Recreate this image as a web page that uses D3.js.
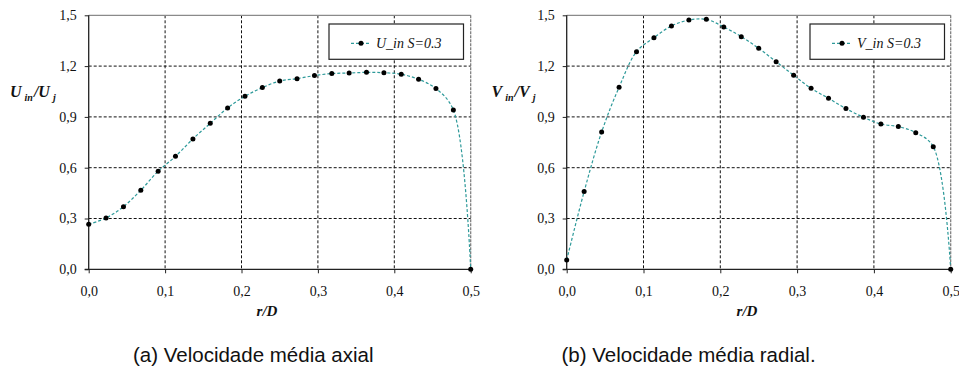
<!DOCTYPE html>
<html>
<head>
<meta charset="utf-8">
<script src="https://cdn.jsdelivr.net/npm/d3@7"></script>
<style>
  body { margin: 0; background: #fff; }
  svg { display: block; }
</style>
</head>
<body>
<svg id="fig" width="959" height="373"></svg>
<script>
// Radial positions r/D (23 stations from axis to wall)
const rD = [0.0000, 0.0227, 0.0455, 0.0682, 0.0909, 0.1136, 0.1364, 0.1591, 0.1818, 0.2045,
            0.2273, 0.2500, 0.2727, 0.2955, 0.3182, 0.3409, 0.3636, 0.3864, 0.4091, 0.4318,
            0.4545, 0.4773, 0.5000];
// Axial mean velocity U_in/U_j, swirl S=0.3
const uIn = [0.266, 0.303, 0.370, 0.467, 0.579, 0.667, 0.770, 0.862, 0.953, 1.022,
             1.073, 1.112, 1.126, 1.144, 1.156, 1.159, 1.163, 1.161, 1.152, 1.122,
             1.067, 0.941, 0.000];
// Radial mean velocity V_in/V_j, swirl S=0.3
const vIn = [0.055, 0.459, 0.811, 1.075, 1.285, 1.368, 1.437, 1.472, 1.476, 1.431,
             1.374, 1.305, 1.226, 1.146, 1.069, 1.010, 0.949, 0.898, 0.858, 0.843,
             0.807, 0.724, 0.000];
const xTicks = [0, 0.1, 0.2, 0.3, 0.4, 0.5];
const yTicks = [0, 0.3, 0.6, 0.9, 1.2, 1.5];
const seriesNames = ["U_in S=0.3", "V_in S=0.3"];
const yTitles = [["U", "in", "/U", "j"], ["V", "in", "/V", "j"]];
const xTitle = "r/D";
const captions = ["(a) Velocidade média axial", "(b) Velocidade média radial."];

const svg = d3.select("#fig");
const fmt = d => d.toFixed(1).replace(".", ",");
const serifFont = "Liberation Serif";
const sansFont = "Liberation Sans";
const lineColor = "#2e9a9a";

const panels = [
  { left: 88.7, right: 470.7, values: uIn, name: seriesNames[0], title: yTitles[0], titleX: 10,
    caption: captions[0], capX: 133, legendX: 329, xTitleX: 267 },
  { left: 566.7, right: 950.7, values: vIn, name: seriesNames[1], title: yTitles[1], titleX: 491.5,
    caption: captions[1], capX: 561.5, legendX: 810, xTitleX: 747 }
];
const plotTop = 15.3, plotBottom = 269.3;

panels.forEach(p => {
  const x = d3.scaleLinear().domain([0, 0.5]).range([p.left, p.right]);
  const y = d3.scaleLinear().domain([0, 1.5]).range([plotBottom, plotTop]);
  const g = svg.append("g");

  // grid
  g.append("g").selectAll("line").data(yTicks.slice(1, -1)).join("line")
    .attr("x1", p.left).attr("x2", p.right)
    .attr("y1", d => y(d)).attr("y2", d => y(d))
    .attr("stroke", "#111").attr("stroke-width", 1).attr("stroke-dasharray", "3,2");
  g.append("g").selectAll("line").data(xTicks.slice(1, -1)).join("line")
    .attr("x1", d => x(d)).attr("x2", d => x(d))
    .attr("y1", plotTop).attr("y2", plotBottom)
    .attr("stroke", "#111").attr("stroke-width", 1).attr("stroke-dasharray", "3,2");

  // frame: top and right edges
  g.append("line").attr("x1", p.left).attr("x2", p.right).attr("y1", plotTop).attr("y2", plotTop)
    .attr("stroke", "#8a8a8a").attr("stroke-width", 1.2);
  g.append("line").attr("x1", p.right).attr("x2", p.right).attr("y1", plotTop).attr("y2", plotBottom)
    .attr("stroke", "#777").attr("stroke-width", 1.2).attr("stroke-dasharray", "3,1");

  // axes
  const yAxis = d3.axisLeft(y).tickValues(yTicks).tickFormat(fmt).tickSize(4).tickPadding(8);
  const xAxis = d3.axisBottom(x).tickValues(xTicks).tickFormat(fmt).tickSize(4).tickPadding(13);
  const ya = g.append("g").attr("transform", `translate(${p.left},0)`).call(yAxis);
  const xa = g.append("g").attr("transform", `translate(0,${plotBottom})`).call(xAxis);
  [ya, xa].forEach(a => {
    a.attr("font-family", serifFont).attr("font-size", 14);
    a.select(".domain").attr("stroke", "#222").attr("stroke-width", 1.3);
    a.selectAll(".tick line").attr("stroke", "#222");
    a.selectAll("text").attr("fill", "#111")
      .attr("font-family", serifFont).attr("font-size", 14);
  });
  xa.select(".domain").attr("d", `M${p.left - 4},0H${p.right}`);
  ya.select(".domain").attr("d", `M0,${plotTop}V${plotBottom}`);

  // series: smoothed dashed line with dot markers
  const pts = rD.map((r, i) => [r, p.values[i]]);
  const line = d3.line().x(d => x(d[0])).y(d => y(d[1])).curve(d3.curveCatmullRom.alpha(0.5));
  g.append("path").datum(pts).attr("d", line)
    .attr("fill", "none").attr("stroke", lineColor).attr("stroke-width", 1.2)
    .attr("stroke-dasharray", "3,2");
  g.append("g").selectAll("circle").data(pts).join("circle")
    .attr("cx", d => x(d[0])).attr("cy", d => y(d[1])).attr("r", 2.5).attr("fill", "#000");

  // legend
  const lg = g.append("g").attr("transform", `translate(${p.legendX},24)`);
  lg.append("rect").attr("width", 134.5).attr("height", 35.3)
    .attr("fill", "#fff").attr("stroke", "#222").attr("stroke-width", 1.2);
  lg.append("line").attr("x1", 22).attr("x2", 40).attr("y1", 19.3).attr("y2", 19.3)
    .attr("stroke", lineColor).attr("stroke-width", 1.2).attr("stroke-dasharray", "3,2");
  lg.append("circle").attr("cx", 32).attr("cy", 19.3).attr("r", 2.5).attr("fill", "#000");
  lg.append("text").attr("x", 47).attr("y", 23.7).text(p.name)
    .attr("font-family", serifFont).attr("font-style", "italic").attr("font-size", 14).attr("fill", "#111");

  // y title with subscripts
  const yt = g.append("text").attr("x", p.titleX).attr("y", 97)
    .attr("font-family", serifFont).attr("font-style", "italic").attr("font-weight", "bold")
    .attr("font-size", 16).attr("fill", "#111");
  yt.append("tspan").text(p.title[0]);
  yt.append("tspan").text(p.title[1]).attr("font-size", 10).attr("dx", 3).attr("dy", 4);
  yt.append("tspan").text(p.title[2]).attr("dx", 1).attr("dy", -4);
  yt.append("tspan").text(p.title[3]).attr("font-size", 10).attr("dx", 3).attr("dy", 4);

  // x title
  g.append("text").attr("x", p.xTitleX).attr("y", 316)
    .attr("text-anchor", "middle").text(xTitle)
    .attr("font-family", serifFont).attr("font-style", "italic").attr("font-weight", "bold")
    .attr("font-size", 15).attr("fill", "#111");

  // caption
  g.append("text").attr("x", p.capX).attr("y", 361.5).text(p.caption)
    .attr("font-family", sansFont).attr("font-size", 20.5).attr("fill", "#111");
});
</script>
</body>
</html>
